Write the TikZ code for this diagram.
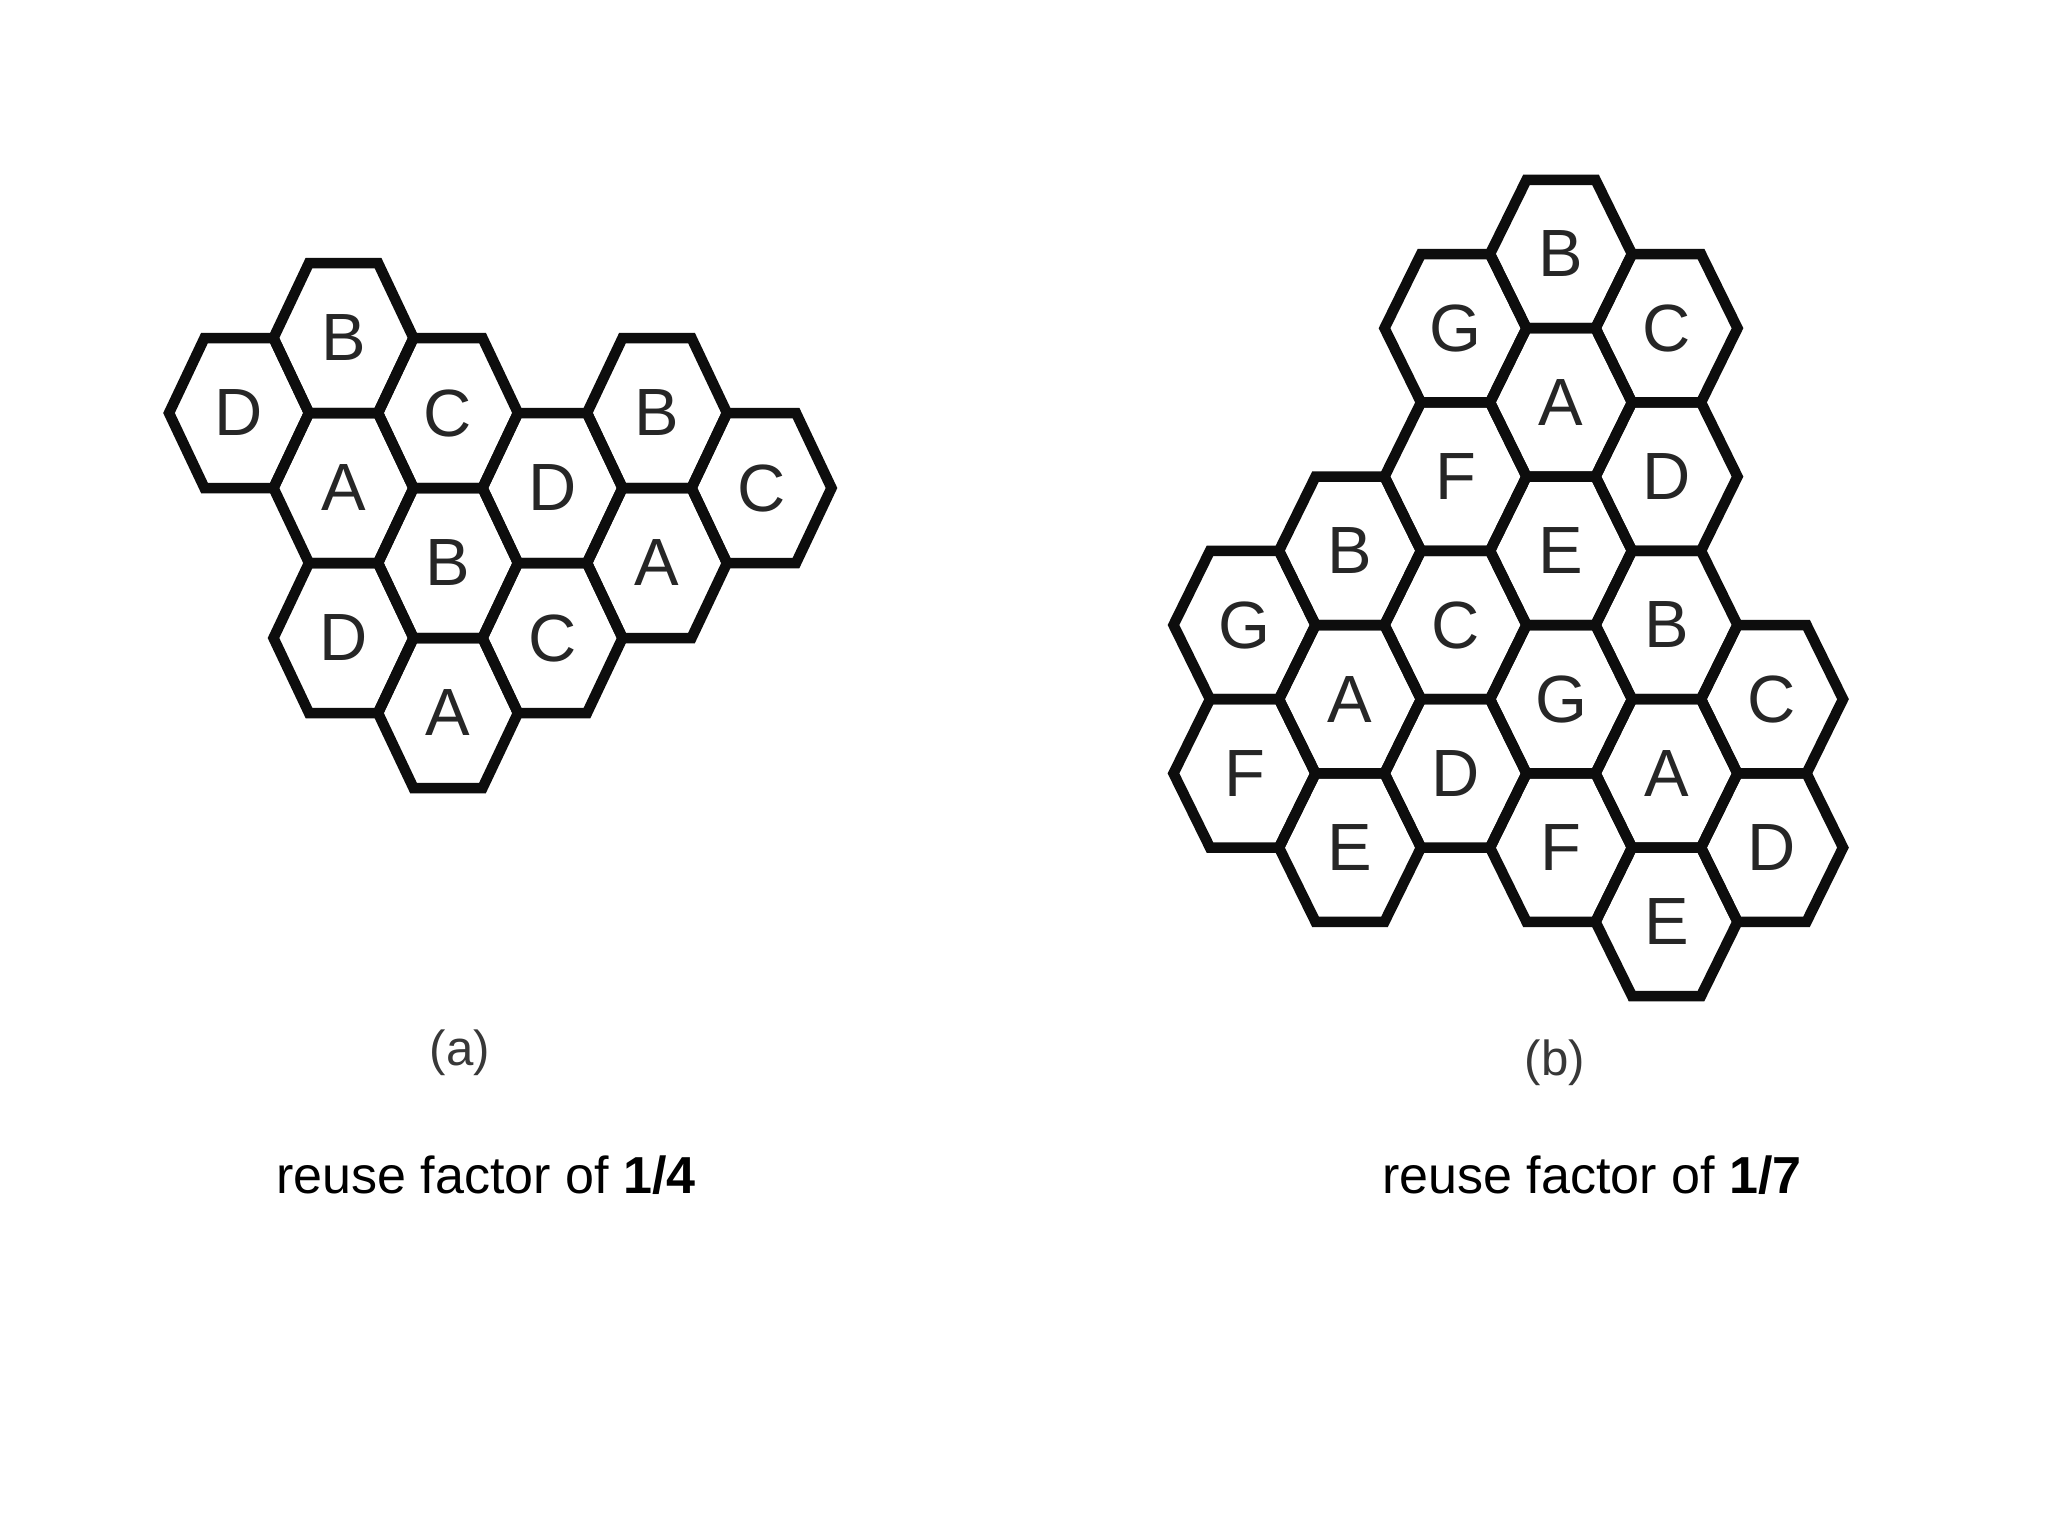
\documentclass[tikz,border=0pt]{standalone}
\usepackage{fontspec}
\setmainfont{Liberation Sans}
\newcommand\hexcell[4]{%
  \draw[hexline] (#2-\ha,#3) -- (#2-\hb,#3-\hh) -- (#2+\hb,#3-\hh) -- (#2+\ha,#3)
     -- (#2+\hb,#3+\hh) -- (#2-\hb,#3+\hh) -- cycle;
  \node[hexlabel] (#1) at (#2,#3) {#4};}
\begin{document}
\begin{tikzpicture}[x=0.01cm,y=-0.01cm,
  hexline/.style={line width=0.105cm, line join=miter, draw=black!95},
  hexlabel/.style={font=\fontsize{19}{19}\selectfont, text=black!85, inner sep=0pt},
  sublabel/.style={font=\fontsize{14}{14}\selectfont, text=black!78, inner sep=0pt},
  caption/.style={font=\fontsize{14.8}{14.8}\selectfont, text=black, inner sep=0pt, anchor=base}]
\useasboundingbox (0,0) rectangle (2048,1536);
\fill[white] (0,0) rectangle (2048,1536);
% ---------- (a) reuse factor 1/4 ----------
\def\ha{70}\def\hb{34.5}\def\hh{75}
\hexcell{a1}{239}{413}{D}
\hexcell{a2}{343.5}{338}{B}
\hexcell{a3}{343.5}{488}{A}
\hexcell{a4}{343.5}{638}{D}
\hexcell{a5}{448}{413}{C}
\hexcell{a6}{448}{563}{B}
\hexcell{a7}{448}{713}{A}
\hexcell{a8}{552.5}{488}{D}
\hexcell{a9}{552.5}{638}{C}
\hexcell{a10}{657}{413}{B}
\hexcell{a11}{657}{563}{A}
\hexcell{a12}{761.5}{488}{C}
% ---------- (b) reuse factor 1/7 ----------
\def\ha{71}\def\hb{34.5}\def\hh{74.2}
\hexcell{b1}{1244.5}{625}{G}
\hexcell{b2}{1244.5}{773.4}{F}
\hexcell{b3}{1350}{550.8}{B}
\hexcell{b4}{1350}{699.2}{A}
\hexcell{b5}{1350}{847.6}{E}
\hexcell{b6}{1455.5}{328.2}{G}
\hexcell{b7}{1455.5}{476.6}{F}
\hexcell{b8}{1455.5}{625}{C}
\hexcell{b9}{1455.5}{773.4}{D}
\hexcell{b10}{1561}{254}{B}
\hexcell{b11}{1561}{402.4}{A}
\hexcell{b12}{1561}{550.8}{E}
\hexcell{b13}{1561}{699.2}{G}
\hexcell{b14}{1561}{847.6}{F}
\hexcell{b15}{1666.5}{328.2}{C}
\hexcell{b16}{1666.5}{476.6}{D}
\hexcell{b17}{1666.5}{625}{B}
\hexcell{b18}{1666.5}{773.4}{A}
\hexcell{b19}{1666.5}{921.8}{E}
\hexcell{b20}{1772}{699.2}{C}
\hexcell{b21}{1772}{847.6}{D}
% ---------- captions ----------
\node[sublabel] (capa) at (460,1053) {(a)};
\node[sublabel] (capb) at (1555,1063) {(b)};
\node[caption] (reusea) at (486,1193) {reuse factor of \textbf{1/4}};
\node[caption] (reuseb) at (1592,1193) {reuse factor of \textbf{1/7}};
\end{tikzpicture}
\end{document}
